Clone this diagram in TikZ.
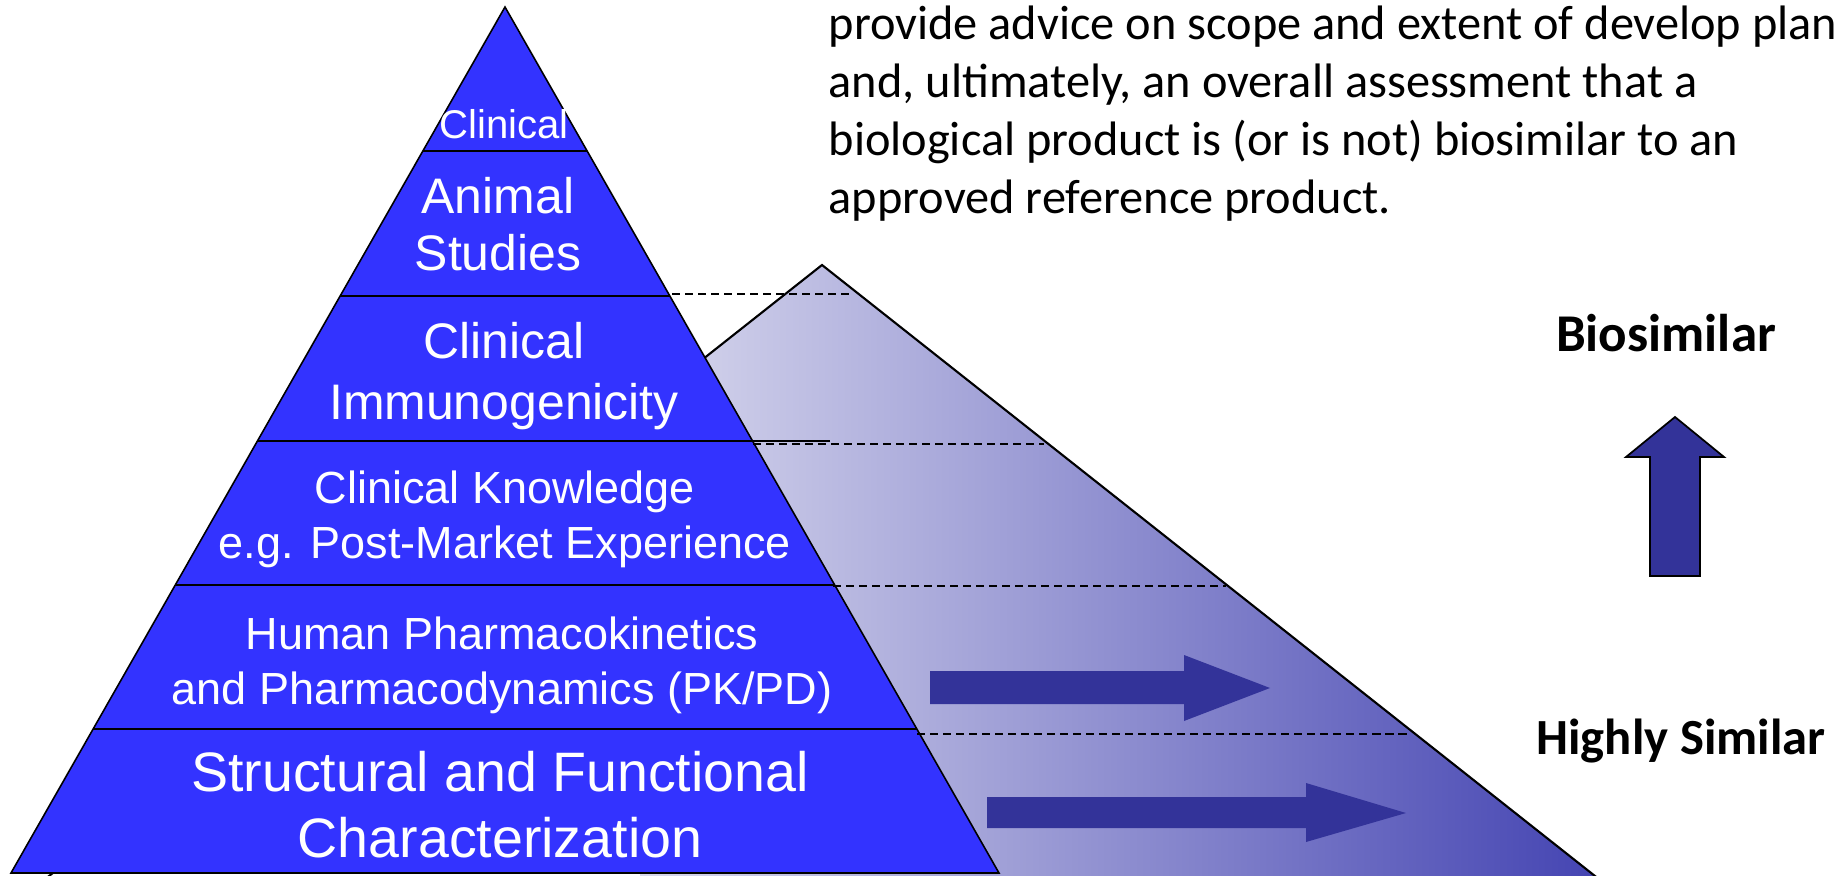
\documentclass[tikz,border=0pt]{standalone}
\usepackage{fontspec}
\setmainfont{Liberation Sans}
\newfontfamily\calibri{Carlito}

\definecolor{pyrblue}{RGB}{51,51,255}
\definecolor{arrowblue}{RGB}{51,51,153}
\definecolor{shadelight}{RGB}{216,216,237}
\definecolor{shadedark}{RGB}{68,68,178}

\tikzset{
  layer/.style={line width=0.8pt},
  level/.style={dash pattern=on 2.3pt off 1.4pt, line width=0.55pt},
  blockarrow/.style={fill=arrowblue},
}

\begin{document}
\begin{tikzpicture}[x=0.01cm, y=-0.01cm]
  \useasboundingbox (0,0) rectangle (1839,876);

  % shaded pyramid in the back
  \coordinate (sl) at (44,880);
  \coordinate (st) at (822,265);
  \coordinate (sr) at (1600,880);
  \begin{scope}
    \clip (sl) -- (st) -- (sr) -- cycle;
    \shade[left color=shadelight, right color=shadedark] (640,260) rectangle (1600,880);
  \end{scope}
  \draw[line width=0.6pt] (sl) -- (st) -- (sr);

  % blue pyramid
  \coordinate (bl) at (11,873);
  \coordinate (top) at (505,7);
  \coordinate (br) at (999,873);
  \fill[pyrblue] (bl) -- (top) -- (br) -- cycle;
  \begin{scope}
    \clip (bl) -- (top) -- (br) -- cycle;
    \foreach \y in {151,296,441,585,729}
      \draw[layer] (0,\y) -- (1000,\y);
  \end{scope}
  \draw[line width=0.45pt] (bl) -- (top) -- (br) -- cycle;
  \draw[layer] (750,441) -- (830,441);

  % levels carried over
  \foreach \y/\a/\b in {294/672/852, 444/753/1044, 586/833/1226, 734/917/1407}
    \draw[level] (\a,\y) -- (\b,\y);

  % arrows
  \fill[blockarrow] (930,671) -- (1184,671) -- (1184,655) -- (1270,688)
    -- (1184,721) -- (1184,704) -- (930,704) -- cycle;
  \fill[blockarrow] (987,797) -- (1306,797) -- (1306,783) -- (1406,813)
    -- (1306,842) -- (1306,828) -- (987,828) -- cycle;
  \filldraw[blockarrow, draw=black, line width=0.5pt] (1650,576) -- (1650,457)
    -- (1626,457) -- (1675,417) -- (1724,457) -- (1700,457) -- (1700,576) -- cycle;

  \begin{scope}[every node/.style={text=white, align=center, inner sep=0pt}]
    \node[font=\fontsize{11.4}{13}\selectfont] (clin) at (504,124) {Clinical};
    \node[font=\fontsize{14.2}{16.2}\selectfont] (anim) at (498,224) {Animal\\Studies};
    \node[font=\fontsize{14.2}{17.4}\selectfont] (immu) at (504,376) {Clinical\\Immunogenicity};
    \node[font=\fontsize{12.8}{15.6}\selectfont] (know) at (505,519) {Clinical Knowledge\\e.g. Post-Market Experience};
    \node[font=\fontsize{12.8}{15.6}\selectfont] (pkpd) at (502,665) {Human Pharmacokinetics\\and Pharmacodynamics (PK/PD)};
    \node[font=\fontsize{15.8}{18.8}\selectfont] (struc) at (500,805) {Structural and Functional\\Characterization};
  \end{scope}

  \begin{scope}[every node/.style={inner sep=0pt}]
    \node[anchor=north west, align=left, font=\calibri\fontsize{13.75}{16.5}\selectfont] (advice) at (828,5)
      {provide advice on scope and extent of develop plan\\
       and, ultimately, an overall assessment that a\\
       biological product is (or is not) biosimilar to an\\
       approved reference product.};
    \node[font=\calibri\bfseries\fontsize{15.1}{17}\selectfont] (bios) at (1666,333) {Biosimilar};
    \node[font=\calibri\bfseries\fontsize{14.4}{17}\selectfont] (highly) at (1681,741) {Highly Similar};
  \end{scope}

\end{tikzpicture}
\end{document}
